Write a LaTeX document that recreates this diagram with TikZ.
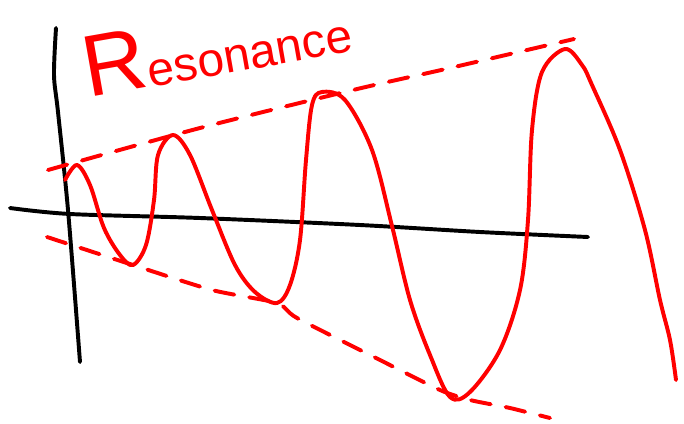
\documentclass[tikz,border=0pt]{standalone}
\usepackage{fontspec}
\setmainfont{Liberation Sans}
\usepackage{tikz}
\definecolor{PenRed}{HTML}{FF0000}
\definecolor{PenBlack}{HTML}{000000}
\tikzset{
  pen/.style={line width=2.8pt,line cap=round,line join=round},
  envelope/.style={pen,PenRed,dash pattern=on 0.5cm off 0.38cm},
}

\begin{document}
\begin{tikzpicture}[x=0.025cm,y=-0.025cm]
  \useasboundingbox (0,0) rectangle (684,423);
  % axes
  \draw[pen,PenBlack] plot[smooth,tension=0.5] coordinates {(56,28) (54,75) (58,112) (68,210) (80,362)};
  \draw[pen,PenBlack] plot[smooth,tension=0.5] coordinates {(10,208) (70,214) (200,218) (360,225) (480,232) (588,237)};
  % envelopes
  \draw[envelope] plot[smooth,tension=0.5] coordinates {(48,170) (200,128) (353,90) (450,68) (574,39)};
  \draw[envelope] plot[smooth,tension=0.4] coordinates {(47,237) (133,265) (212,290) (277,303) (297,318) (380,360) (440,390) (470,400) (510,408) (550,418)};
  % driven oscillation
  \draw[pen,PenRed] plot[smooth,tension=0.55] coordinates {
    (65,180) (77,165) (90,185) (104,228) (120,255) (133,265) (146,245) (154,200) (158,155) (173,135)
    (190,155) (212,210) (235,265) (255,292) (277,303) (290,285) (300,240) (306,160) (312,105) (322,92)
    (345,100) (372,150) (392,226) (410,300) (430,355) (450,397) (470,392) (500,350) (520,290) (528,220)
    (532,130) (542,72) (565,49) (582,65) (592,85) (620,150) (645,230) (660,300) (670,340) (676,380)};
  % title
  \node[PenRed,rotate=10,anchor=base west,inner sep=0pt,font=\fontsize{34}{34}\selectfont] (title)
    at (88,98) {{\fontsize{62}{62}\selectfont R}esonance};
\end{tikzpicture}
\end{document}
